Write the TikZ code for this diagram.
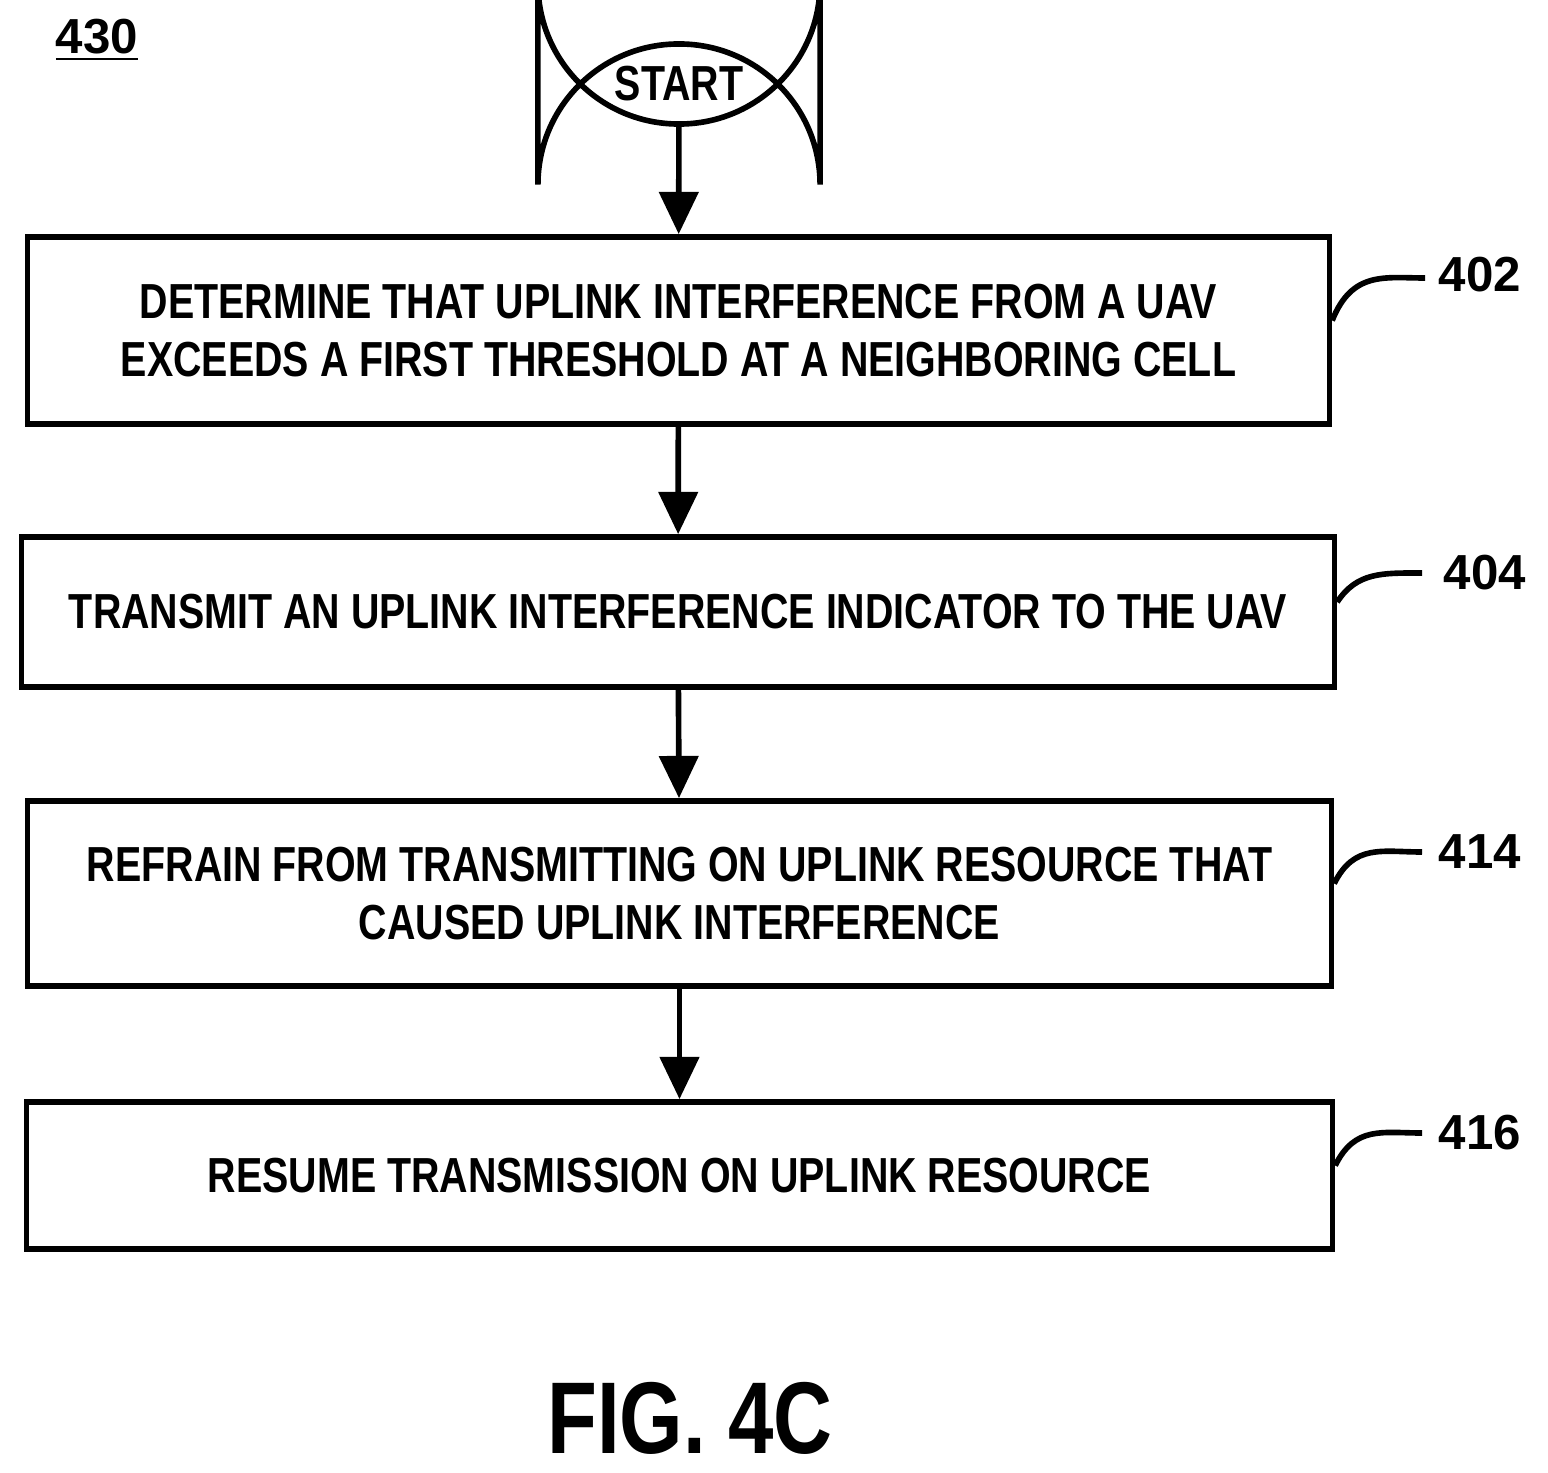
\documentclass[tikz,border=0pt]{standalone}
\usepackage{fontspec}
\setmainfont{Liberation Sans}
\newfontfamily\narrowfont[FakeStretch=0.8]{Liberation Sans}
\usetikzlibrary{arrows.meta}
\tikzset{
  step/.style = {draw, line width=1.6pt, minimum height=#1, align=center,
    font=\narrowfont\bfseries\fontsize{14}{16.5}\selectfont, inner sep=0pt},
  flow/.style = {-{Triangle[length=12pt,width=11pt]}, line width=1.6pt},
  tag/.style  = {font=\bfseries\fontsize{14}{16}\selectfont},
  leader/.style = {line width=1.6pt}
}
\begin{document}
\begin{tikzpicture}[x=0.01cm,y=-0.01cm]
    \useasboundingbox (0,0) rectangle (1548,1473);
    \node[tag] (fig) at (97,40) {\underline{430}};

    \node[draw, line width=1.6pt, rounded corners=40pt, minimum width=2.82cm, minimum height=0.8cm,
      font=\narrowfont\bfseries\fontsize{14}{16}\selectfont] (start) at (679,84) {START};

    \node[step=1.87cm, minimum width=13.01cm] (s402) at (678.5,330.5)
      {DETERMINE THAT UPLINK INTERFERENCE FROM A UAV\\EXCEEDS A FIRST THRESHOLD AT A NEIGHBORING CELL};
    \node[step=1.50cm, minimum width=13.12cm] (s404) at (678,612)
      {TRANSMIT AN UPLINK INTERFERENCE INDICATOR TO THE UAV};
    \node[step=1.85cm, minimum width=13.03cm] (s414) at (679.5,893.5)
      {REFRAIN FROM TRANSMITTING ON UPLINK RESOURCE THAT\\CAUSED UPLINK INTERFERENCE};
    \node[step=1.47cm, minimum width=13.05cm] (s416) at (679.5,1175.5)
      {RESUME TRANSMISSION ON UPLINK RESOURCE};

    \draw[flow] (start) -- (s402);
    \draw[flow] (s402) -- (s404);
    \draw[flow] (s404) -- (s414);
    \draw[flow] (s414) -- (s416);

    % reference numerals
    \node[tag] (n402) at (1480,275) {402};
    \node[tag] (n404) at (1485,573) {404};
    \node[tag] (n414) at (1480,852) {414};
    \node[tag] (n416) at (1480,1133) {416};
    \coordinate (c402) at (1425,278);
    \coordinate (c404) at (1422,573);
    \coordinate (c414) at (1422,852);
    \coordinate (c416) at (1422,1133);
    \draw[leader] (s402.east) ++(0,-10) .. controls +(20,-50) and +(-40,0) .. (c402);
    \draw[leader] (s404.east) ++(0,-10) .. controls +(20,-30) and +(-40,0) .. (c404);
    \draw[leader] (s414.east) ++(0,-10) .. controls +(20,-40) and +(-40,0) .. (c414);
    \draw[leader] (s416.east) ++(0,-10) .. controls +(20,-40) and +(-40,0) .. (c416);

    \node[font=\narrowfont\bfseries\fontsize{29}{32}\selectfont] (cap) at (690,1418) {FIG. 4C};
\end{tikzpicture}
\end{document}
